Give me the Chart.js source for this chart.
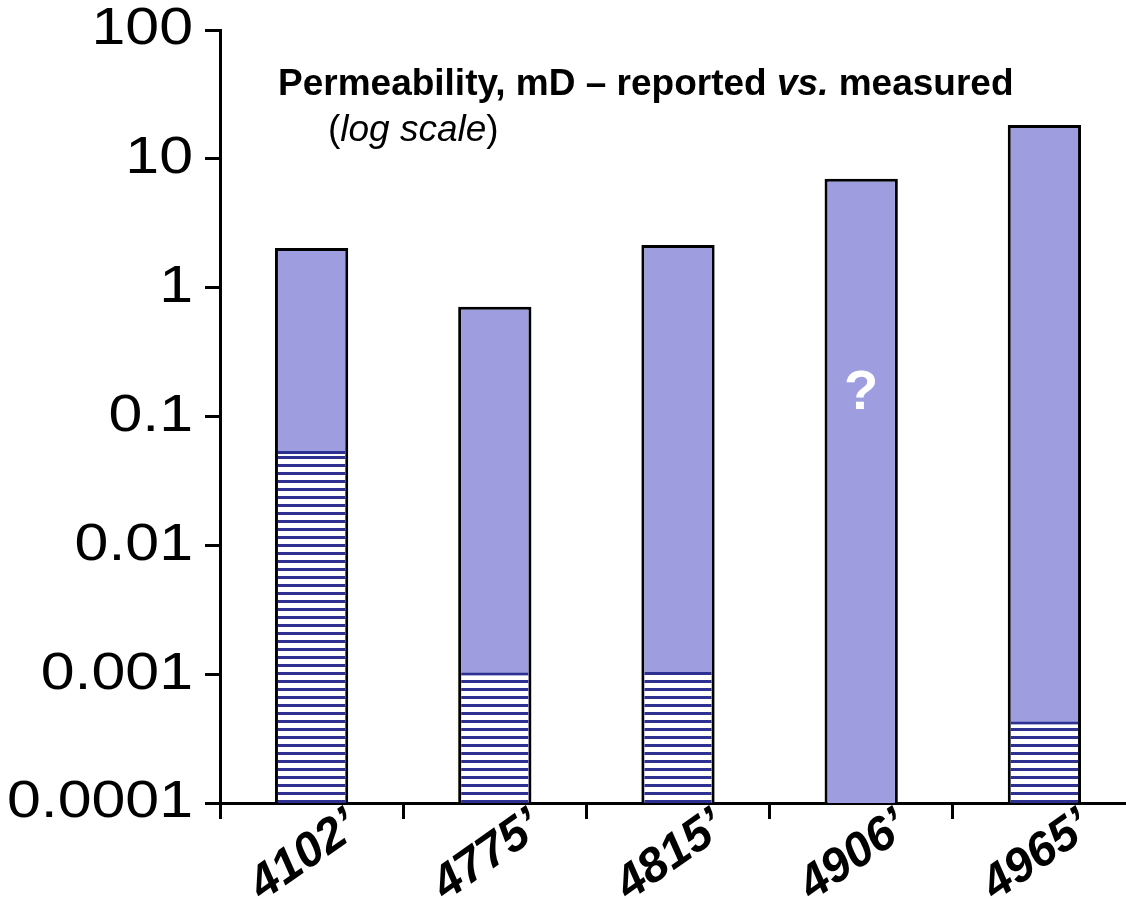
<!DOCTYPE html>
<html>
<head>
<meta charset="utf-8">
<script src="https://cdn.jsdelivr.net/npm/chart.js@4.4.1/dist/chart.umd.min.js"></script>
<style>
    html, body { margin: 0; padding: 0; background: #fff; overflow: hidden; }
    #wrap { width: 1136px; height: 899px; }
</style>
</head>
<body>
<div id="wrap"><canvas id="permChart" width="1136" height="899"></canvas></div>
<script>
const depths = ["4102\u2019", "4775\u2019", "4815\u2019", "4906\u2019", "4965\u2019"];
const reported = [2.03, 0.71, 2.14, 7.0, 18.3];
const measured = [0.054, 0.00103, 0.00104, null, 0.00043];
const noteLabels = ["", "", "", "?", ""];
const noteValue = 0.15;
const yTicks = [100, 10, 1, 0.1, 0.01, 0.001, 0.0001];
const yTickLabels = ["100", "10", "1", "0.1", "0.01", "0.001", "0.0001"];

const FONT = "'Liberation Sans', Arial, sans-serif";
const PURPLE = "#9d9ddf";
const NAVY = "#2e3192";

function makeHatch() {
    const c = document.createElement("canvas");
    c.width = 8;
    c.height = 8;
    const ctx = c.getContext("2d");
    ctx.fillStyle = "#ffffff";
    ctx.fillRect(0, 0, 8, 8);
    ctx.fillStyle = NAVY;
    ctx.fillRect(0, 0, 8, 3);
    return ctx.createPattern(c, "repeat");
}

// title lines, the "?" note and the (slightly wide) y tick labels
const annotations = {
    id: "annotations",
    afterDraw(chart) {
        const ctx = chart.ctx;
        const yScale = chart.scales.y;
        ctx.save();
        ctx.fillStyle = "#000";
        ctx.textBaseline = "alphabetic";
        ctx.textAlign = "left";

        let x = 278;
        const parts = [
            ["bold 37px " + FONT, "Permeability, mD \u2013 reported "],
            ["italic bold 37px " + FONT, "vs."],
            ["bold 37px " + FONT, " measured"]
        ];
        for (const p of parts) {
            ctx.font = p[0];
            ctx.fillText(p[1], x, 95);
            x += ctx.measureText(p[1]).width;
        }

        x = 328;
        const sub = [
            ["37px " + FONT, "("],
            ["italic 37px " + FONT, "log scale"],
            ["37px " + FONT, ")"]
        ];
        for (const p of sub) {
            ctx.font = p[0];
            ctx.fillText(p[1], x, 141);
            x += ctx.measureText(p[1]).width;
        }

        // y tick labels, stretched a little sideways like the original slide
        ctx.font = "52px " + FONT;
        ctx.textAlign = "right";
        ctx.textBaseline = "middle";
        yTicks.forEach((v, i) => {
            ctx.save();
            ctx.translate(193, yScale.getPixelForValue(v));
            ctx.scale(1.17, 1);
            ctx.fillText(yTickLabels[i], 0, 0);
            ctx.restore();
        });

        const meta = chart.getDatasetMeta(1);
        ctx.font = "bold 56px " + FONT;
        ctx.fillStyle = "#fff";
        ctx.textAlign = "center";
        noteLabels.forEach((txt, i) => {
            if (txt) {
                ctx.fillText(txt, meta.data[i].x, yScale.getPixelForValue(noteValue));
            }
        });
        ctx.restore();
    }
};

new Chart(document.getElementById("permChart"), {
    type: "bar",
    data: {
        labels: depths,
        datasets: [
            {
                label: "Measured",
                data: measured,
                backgroundColor: makeHatch(),
                borderColor: NAVY,
                borderWidth: { left: 0, right: 0, top: 3, bottom: 0 },
                borderSkipped: "start",
                grouped: false,
                barPercentage: 0.367,
                categoryPercentage: 1
            },
            {
                label: "Reported",
                data: reported,
                backgroundColor: PURPLE,
                borderColor: "#000",
                borderWidth: 3,
                borderSkipped: "start",
                grouped: false,
                barPercentage: 0.4,
                categoryPercentage: 1
            }
        ]
    },
    options: {
        responsive: false,
        animation: false,
        layout: { padding: 0 },
        plugins: {
            legend: { display: false },
            tooltip: { enabled: false }
        },
        scales: {
            x: {
                grid: {
                    drawOnChartArea: false,
                    color: "#000",
                    lineWidth: 3,
                    tickLength: 16
                },
                border: { color: "#000", width: 3 },
                ticks: {
                    color: "#000",
                    font: { family: FONT, size: 48, weight: "bold", style: "italic" },
                    minRotation: 35,
                    maxRotation: 35,
                    labelOffset: 42,
                    padding: -21
                },
                afterFit(scale) {
                    scale.height = 96;
                }
            },
            y: {
                type: "logarithmic",
                min: 0.0001,
                max: 100,
                grid: {
                    drawOnChartArea: false,
                    color: "#000",
                    lineWidth: 3,
                    tickLength: 15
                },
                border: { color: "#000", width: 3 },
                ticks: {
                    display: false
                },
                afterBuildTicks(scale) {
                    scale.ticks = yTicks.map(v => ({ value: v }));
                },
                afterFit(scale) {
                    scale.width = 220;
                    scale.paddingTop = 30;
                    scale.paddingBottom = 0;
                }
            }
        }
    },
    plugins: [annotations]
});
</script>
</body>
</html>
